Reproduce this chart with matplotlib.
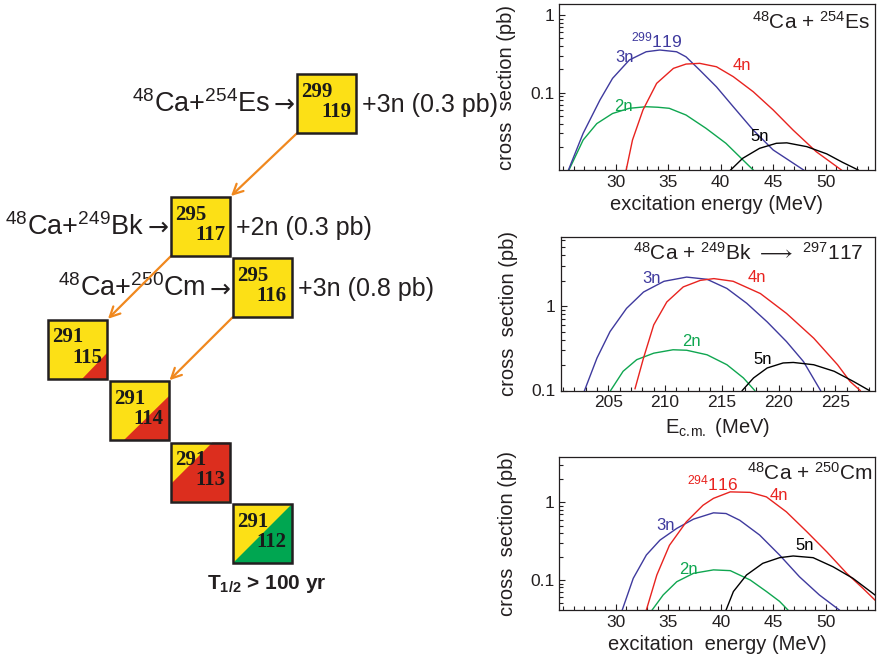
import matplotlib.pyplot as plt
from matplotlib.patches import Rectangle, Polygon
from matplotlib.ticker import MultipleLocator, LogLocator, NullFormatter

plt.rcParams['font.family'] = ['Liberation Sans', 'DejaVu Sans']
plt.rcParams['mathtext.fontset'] = 'custom'
plt.rcParams['mathtext.default'] = 'regular'
plt.rcParams['mathtext.fallback'] = 'stixsans'

# decay chain: nuclei, their place in the chart and the split of the box colour
masses = [299, 295, 295, 291, 291, 291, 291]
charges = [119, 117, 116, 115, 114, 113, 112]
cols = [4, 2, 3, 0, 1, 2, 3]
rows = [-2, 0, 1, 2, 3, 4, 5]
splits = [None, None, None, 0.57, 0.25, -0.3, 0.0]
lower_fill = [None, None, None, 'red', 'red', 'red', 'green']
decays = [(0, 1), (1, 3), (2, 4)]

# reactions feeding the first three nuclei
targets = ['$^{254}$Es', '$^{249}$Bk', '$^{250}$Cm']
evap = ['3n', '2n', '3n']
xsec = ['0.3', '0.3', '0.8']

# excitation functions, 48Ca + 254Es
es_2n_e = [25.55, 26.9, 28.2, 29.7, 31.3, 32.9, 34.0, 35.1, 36.7, 38.6, 40.5, 41.8, 43.1]
es_2n_s = [0.0101, 0.0246, 0.040, 0.054, 0.063, 0.066, 0.065, 0.063, 0.0516, 0.0348, 0.0223, 0.015, 0.0101]
es_3n_e = [25.5, 26.9, 28.5, 29.7, 31.3, 32.9, 34.2, 35.8, 36.7, 38.0, 39.6, 41.2, 43.1, 45.0, 47.9]
es_3n_s = [0.0101, 0.030, 0.0805, 0.153, 0.264, 0.337, 0.355, 0.337, 0.29, 0.196, 0.119, 0.066, 0.033, 0.0183, 0.0101]
es_4n_e = [31.0, 31.6, 32.6, 33.9, 35.5, 36.7, 38.0, 39.6, 41.2, 43.1, 45.0, 46.9, 49.1, 51.5]
es_4n_s = [0.0101, 0.0246, 0.060, 0.132, 0.206, 0.234, 0.239, 0.216, 0.161, 0.103, 0.060, 0.033, 0.0174, 0.0101]
es_5n_e = [40.95, 42.1, 43.7, 45.3, 46.3, 48.2, 50.1, 51.6, 53.1]
es_5n_s = [0.0101, 0.0143, 0.0192, 0.0223, 0.0226, 0.0202, 0.0163, 0.0127, 0.0101]

# excitation functions, 48Ca + 249Bk
bk_2n_e = [205.2, 206.3, 207.5, 209.0, 210.7, 211.9, 213.7, 215.45, 216.9, 217.9]
bk_2n_s = [0.1, 0.169, 0.232, 0.277, 0.304, 0.30, 0.265, 0.202, 0.141, 0.1]
bk_3n_e = [202.9, 204.0, 205.15, 206.6, 208.1, 209.9, 211.9, 213.7, 215.45, 217.2, 219.0, 220.7, 222.2, 223.7]
bk_3n_s = [0.1, 0.243, 0.50, 0.94, 1.47, 1.97, 2.21, 2.08, 1.62, 1.08, 0.65, 0.38, 0.22, 0.1]
bk_4n_e = [207.35, 208.1, 209.0, 210.15, 211.6, 213.1, 214.3, 216.0, 218.4, 220.7, 223.1, 225.2, 226.3, 227.2]
bk_4n_s = [0.105, 0.243, 0.60, 1.12, 1.69, 2.02, 2.12, 1.97, 1.41, 0.82, 0.417, 0.202, 0.128, 0.1]
bk_5n_e = [216.8, 217.8, 219.0, 220.4, 221.3, 223.1, 224.9, 226.6, 228.0]
bk_5n_s = [0.1, 0.141, 0.185, 0.212, 0.215, 0.202, 0.169, 0.128, 0.1]

# excitation functions, 48Ca + 250Cm
cm_2n_e = [33.45, 34.5, 35.8, 37.4, 39.3, 40.9, 42.8, 44.35, 45.6, 46.4]
cm_2n_s = [0.041, 0.064, 0.095, 0.122, 0.135, 0.132, 0.10, 0.071, 0.053, 0.041]
cm_3n_e = [30.6, 31.65, 32.9, 34.2, 35.8, 37.4, 39.3, 40.5, 41.8, 43.7, 45.6, 47.5, 49.4, 51.3]
cm_3n_s = [0.041, 0.105, 0.21, 0.327, 0.463, 0.61, 0.735, 0.72, 0.59, 0.38, 0.21, 0.11, 0.064, 0.041]
cm_4n_e = [32.9, 33.9, 35.1, 36.7, 38.3, 39.3, 40.9, 42.8, 44.35, 46.25, 48.2, 50.1, 52.0, 53.55, 54.7]
cm_4n_s = [0.041, 0.116, 0.28, 0.56, 0.92, 1.13, 1.37, 1.35, 1.18, 0.757, 0.42, 0.231, 0.122, 0.078, 0.055]
cm_5n_e = [40.5, 41.2, 42.45, 44.0, 45.6, 46.9, 48.8, 50.7, 52.6, 54.7]
cm_5n_s = [0.041, 0.071, 0.116, 0.164, 0.194, 0.204, 0.194, 0.148, 0.105, 0.064]

BLUE = '#3f3a9e'
RED = '#e8231f'
GREEN = '#0fa650'
YELLOW = '#fce016'
FILLS = {'red': '#dc2e1e', 'green': '#00a651'}
ORANGE = '#f0881e'
INK = '#231f20'

W, H = 877, 663
fig = plt.figure(figsize=(W / 100, H / 100), dpi=100)

# ---------------- left: decay chain drawn in pixel units
ax = fig.add_axes([0, 0, 1, 1])
ax.set_xlim(0, W)
ax.set_ylim(H, 0)
ax.axis('off')

S = 59
corner = []
for m, z, c, r, d, fc in zip(masses, charges, cols, rows, splits, lower_fill):
    x0 = 48 + 61.5 * c + (3 if c == 4 else 0)
    y0 = 197 + 61.4 * r
    corner.append((x0, y0))
    ax.add_patch(Rectangle((x0, y0), S, S, facecolor=YELLOW, edgecolor='none', zorder=3))
    if d is not None:
        if d >= 0:
            uv = [(d, 0), (1, 0), (1, 1 - d)]
        else:
            uv = [(0, 0), (1, 0), (1, 1), (1 + d, 1), (0, -d)]
        pts = [(x0 + u * S, y0 + (1 - v) * S) for u, v in uv]
        ax.add_patch(Polygon(pts, closed=True, facecolor=FILLS[fc], edgecolor='none', zorder=3))
    ax.add_patch(Rectangle((x0, y0), S, S, facecolor='none', edgecolor=INK, lw=1.8, zorder=4))
    ax.text(x0 + 0.07 * S, y0 + 0.30 * S, str(m), ha='left', va='center', family='Liberation Serif',
            fontweight='bold', fontsize=15, color='#1a1a1a', zorder=5)
    ax.text(x0 + 0.92 * S, y0 + 0.64 * S, str(z), ha='right', va='center', family='Liberation Serif',
            fontweight='bold', fontsize=15, color='#1a1a1a', zorder=5)

for i, (tgt, n, sig) in enumerate(zip(targets, evap, xsec)):
    x0, y0 = corner[i]
    base = y0 + 0.64 * S
    ax.text(x0 - 2, base, '\u2192', ha='right', va='baseline', family='DejaVu Sans',
            fontsize=18, color=INK)
    ax.text(x0 - 27, base, '$^{48}$Ca+' + tgt, ha='right', va='baseline', fontsize=19.5, color=INK)
    ax.text(x0 + S + 6, base, '+%s (%s pb)' % (n, sig), ha='left', va='baseline',
            fontsize=18, color=INK)

for a, b in decays:
    xa, ya = corner[a]
    xb, yb = corner[b]
    ax.annotate('', xy=(xb + S + 1, yb - 1), xytext=(xa, ya + S),
                arrowprops=dict(arrowstyle='->', color=ORANGE, lw=1.6, shrinkA=0, shrinkB=0,
                                mutation_scale=18))

xl, yl = corner[-1]
ax.text(xl + S / 2 + 5, yl + S + 26, 'T$_{1/2}$ > 100 yr', ha='center', va='baseline',
        fontsize=15, fontweight='bold', color=INK)


# ---------------- right: excitation functions
def panel(rect, xlim, ylim, xticks, xlabel):
    p = fig.add_axes(rect)
    p.set_yscale('log')
    p.set_xlim(*xlim)
    p.set_ylim(*ylim)
    p.set_xticks(xticks)
    p.xaxis.set_minor_locator(MultipleLocator(1))
    p.set_yticks([0.1, 1])
    p.set_yticklabels(['0.1', '1'])
    p.yaxis.set_minor_locator(LogLocator(base=10, subs=range(2, 10)))
    p.yaxis.set_minor_formatter(NullFormatter())
    p.tick_params(which='both', direction='in', top=False, right=False, labelsize=12.5,
                  colors=INK, width=0.8)
    p.tick_params(which='major', length=4.5)
    p.tick_params(which='minor', length=3)
    for sp in p.spines.values():
        sp.set_linewidth(0.9)
        sp.set_color(INK)
    p.set_xlabel(xlabel, fontsize=14.5, color=INK, labelpad=4)
    p.set_ylabel('cross  section (pb)', fontsize=14.5, color=INK)
    p.yaxis.set_label_coords(-0.135, 0.5)
    return p


lw = 1.0

p1 = panel([559 / W, 1 - 170 / H, 316 / W, 166 / H], (24.6, 54.7), (0.0101, 1.39),
           [30, 35, 40, 45, 50], 'excitation energy (MeV)')
p1.plot(es_2n_e, es_2n_s, color=GREEN, lw=lw)
p1.plot(es_3n_e, es_3n_s, color=BLUE, lw=lw)
p1.plot(es_4n_e, es_4n_s, color=RED, lw=lw)
p1.plot(es_5n_e, es_5n_s, color='black', lw=lw)
p1.text(0.984, 0.89, '$^{48}$Ca + $^{254}$Es', transform=p1.transAxes, ha='right', va='center',
        fontsize=15, color=INK)
p1.text(33.9, 0.47, '$^{299}$119', color=BLUE, fontsize=12.5, ha='center', va='center')
p1.text(30.86, 0.288, '3n', color=BLUE, fontsize=12, ha='center', va='center')
p1.text(42.0, 0.227, '4n', color=RED, fontsize=12, ha='center', va='center')
p1.text(30.76, 0.0655, '2n', color=GREEN, fontsize=12, ha='center', va='center')
p1.text(43.7, 0.0269, '5n', color='black', fontsize=12, ha='center', va='center')

p2 = panel([560.7 / W, 1 - 390.5 / H, 314.3 / W, 153.5 / H], (200.8, 228.5), (0.1, 6.6),
           [205, 210, 215, 220, 225], r'E$_{c.\!m.}$ (MeV)')
p2.plot(bk_2n_e, bk_2n_s, color=GREEN, lw=lw)
p2.plot(bk_3n_e, bk_3n_s, color=BLUE, lw=lw)
p2.plot(bk_4n_e, bk_4n_s, color=RED, lw=lw)
p2.plot(bk_5n_e, bk_5n_s, color='black', lw=lw)
p2.text(0.962, 0.896, r'$^{48}$Ca + $^{249}$Bk $\longrightarrow$ $^{297}$117', transform=p2.transAxes,
        ha='right', va='center', fontsize=15, color=INK)
p2.text(208.8, 2.13, '3n', color=BLUE, fontsize=12, ha='center', va='center')
p2.text(218.1, 2.19, '4n', color=RED, fontsize=12, ha='center', va='center')
p2.text(212.3, 0.377, '2n', color=GREEN, fontsize=12, ha='center', va='center')
p2.text(218.6, 0.232, '5n', color='black', fontsize=12, ha='center', va='center')

p3 = panel([559.3 / W, 1 - 610 / H, 315.7 / W, 153 / H], (24.6, 54.7), (0.041, 3.86),
           [30, 35, 40, 45, 50], 'excitation  energy (MeV)')
p3.plot(cm_2n_e, cm_2n_s, color=GREEN, lw=lw)
p3.plot(cm_3n_e, cm_3n_s, color=BLUE, lw=lw)
p3.plot(cm_4n_e, cm_4n_s, color=RED, lw=lw)
p3.plot(cm_5n_e, cm_5n_s, color='black', lw=lw)
p3.text(0.994, 0.895, '$^{48}$Ca + $^{250}$Cm', transform=p3.transAxes, ha='right', va='center',
        fontsize=15, color=INK)
p3.text(39.24, 1.77, '$^{294}$116', color=RED, fontsize=12.5, ha='center', va='center')
p3.text(45.5, 1.24, '4n', color=RED, fontsize=12, ha='center', va='center')
p3.text(34.76, 0.51, '3n', color=BLUE, fontsize=12, ha='center', va='center')
p3.text(48.0, 0.282, '5n', color='black', fontsize=12, ha='center', va='center')
p3.text(36.95, 0.135, '2n', color=GREEN, fontsize=12, ha='center', va='center')

fig.savefig('out.png', dpi=100)
